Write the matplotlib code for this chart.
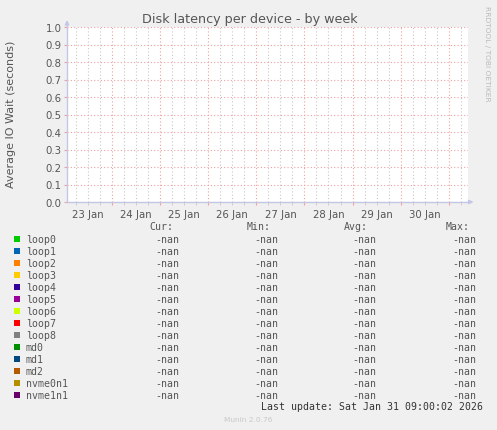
import numpy as np
import matplotlib
matplotlib.use('Agg')
import matplotlib.pyplot as plt
from matplotlib.ticker import MultipleLocator, FuncFormatter

# Time range in days counted from 23 Jan 00:00
t_start = 0.064
t_end = 8.40
day_names = ['23 Jan', '24 Jan', '25 Jan', '26 Jan', '27 Jan', '28 Jan', '29 Jan', '30 Jan', '31 Jan']

devices = ['loop0', 'loop1', 'loop2', 'loop3', 'loop4', 'loop5', 'loop6', 'loop7',
           'loop8', 'md0', 'md1', 'md2', 'nvme0n1', 'nvme1n1']
colors = ['#00CC00', '#0066B3', '#FF8000', '#FFCC00', '#330099', '#990099', '#CCFF00',
          '#FF0000', '#808080', '#008F00', '#00487D', '#B35A00', '#B38F00', '#6B006B']
# No samples were recorded: every statistic is NaN
cur_vals = [np.nan] * len(devices)
min_vals = [np.nan] * len(devices)
avg_vals = [np.nan] * len(devices)
max_vals = [np.nan] * len(devices)

W, H = 497, 431
bg = '#F0F0F0'
txt = '#555555'
axis_col = '#C4C6E6'


def fx(px):
    return px / W


def fy(py):
    return 1 - py / H


def fmt(v):
    return '-nan' if np.isnan(v) else '%.2f' % v


fig = plt.figure(figsize=(W / 100, H / 100), dpi=100, facecolor=bg)
ax = fig.add_axes([fx(67), 1 - 203 / H, 401 / W, 175 / H])
ax.set_facecolor('white')

for dev, c in zip(devices, colors):
    ax.plot([t_start, t_end], [np.nan, np.nan], color=c, label=dev)

ax.set_xlim(t_start, t_end)
ax.set_ylim(0, 1.0)

ax.xaxis.set_major_locator(MultipleLocator(1.0))
ax.xaxis.set_minor_locator(MultipleLocator(0.25))
ax.xaxis.set_major_formatter(FuncFormatter(lambda v, p: ''))


def day_label(v, p):
    d = int(np.floor(v))
    if abs(v - d - 0.5) < 1e-6 and 0 <= d < len(day_names):
        return day_names[d]
    return ''


ax.xaxis.set_minor_formatter(FuncFormatter(day_label))
ax.yaxis.set_major_locator(MultipleLocator(0.1))
ax.yaxis.set_major_formatter(FuncFormatter(lambda v, p: '%.1f' % v))

ax.grid(True, which='major', axis='x', color='#F0A0A0', linestyle=(0, (1, 2)), linewidth=0.8)
ax.grid(True, which='minor', axis='x', color='#C8C8C8', linestyle=(0, (1, 2)), linewidth=0.8)
ax.grid(True, which='major', axis='y', color='#F0A0A0', linestyle=(0, (1, 2)), linewidth=0.8)

ax.tick_params(axis='both', which='both', labelsize=7.3, labelcolor=txt, pad=2)
ax.tick_params(axis='x', which='major', length=2, color='#F0A0A0')
ax.tick_params(axis='x', which='minor', length=2, color='#C8C8C8', pad=3)
ax.tick_params(axis='y', which='major', length=2, color='#F0A0A0')

for s in ['top', 'right']:
    ax.spines[s].set_visible(False)
for s in ['left', 'bottom']:
    ax.spines[s].set_color(axis_col)
    ax.spines[s].set_linewidth(1)

# axis arrows
ax.annotate('', xy=(0, 1), xycoords='axes fraction', xytext=(0, 5), textcoords='offset points',
            arrowprops=dict(arrowstyle='<|-', color=axis_col, lw=1, mutation_scale=6,
                            shrinkA=0, shrinkB=0), annotation_clip=False)
ax.annotate('', xy=(1, 0), xycoords='axes fraction', xytext=(4, 0), textcoords='offset points',
            arrowprops=dict(arrowstyle='<|-', color=axis_col, lw=1, mutation_scale=6,
                            shrinkA=0, shrinkB=0), annotation_clip=False)

fig.text(fx(249.5), fy(19), 'Disk latency per device - by week', ha='center', va='center',
         fontsize=9.2, color=txt)
fig.text(fx(11), fy(114), 'Average IO Wait (seconds)', ha='center', va='center',
         rotation=90, fontsize=8, color=txt)
fig.text(fx(487), fy(54), 'RRDTOOL / TOBI OETIKER', ha='center', va='center',
         rotation=-90, fontsize=5.4, color='#BBBBBB')

mono = 'DejaVu Sans Mono'
lfs = 7.1
col_hdr = [('Cur:', 149), ('Min:', 247), ('Avg:', 344), ('Max:', 446)]
for name, x in col_hdr:
    fig.text(fx(x), fy(227.5), name, ha='left', va='center', family=mono, fontsize=lfs, color=txt)

col_x = [155.5, 254.5, 352.5, 452.5]
for i, dev in enumerate(devices):
    y = 240 + 12 * i
    fig.patches.append(plt.Rectangle((fx(14), fy(y + 3)), 6 / W, 6 / H, transform=fig.transFigure,
                                     facecolor=colors[i], edgecolor='none'))
    fig.text(fx(25.7), fy(y), dev, ha='left', va='center', family=mono, fontsize=lfs, color=txt)
    vals = [cur_vals[i], min_vals[i], avg_vals[i], max_vals[i]]
    for v, x in zip(vals, col_x):
        fig.text(fx(x), fy(y), fmt(v), ha='left', va='center', family=mono, fontsize=lfs, color=txt)

fig.text(fx(261), fy(407.5), 'Last update: Sat Jan 31 09:00:02 2026', ha='left', va='center',
         family=mono, fontsize=lfs, color='#333333')
fig.text(fx(248), fy(420.5), 'Munin 2.0.76', ha='center', va='center', fontsize=5.3, color='#C8C8C8')

fig.savefig('out.png', dpi=100, facecolor=bg)
